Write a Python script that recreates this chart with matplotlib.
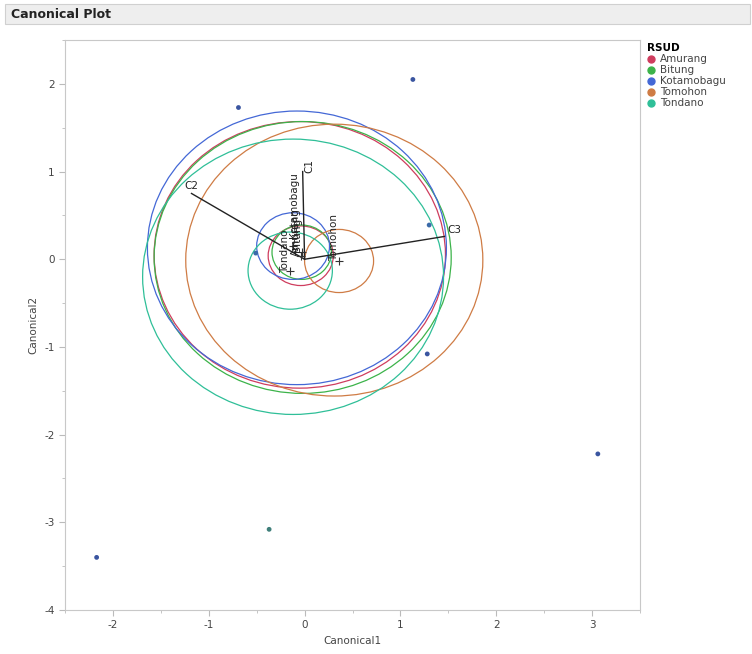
import numpy as np
import matplotlib.pyplot as plt
from matplotlib.patches import Circle, Rectangle
from matplotlib.lines import Line2D

plt.rcParams["axes.unicode_minus"] = False

# groups (RSUD)
groups = ["Amurang", "Bitung", "Kotamobagu", "Tomohon", "Tondano"]
colors = ["#cf3d5e", "#3cb34a", "#4468d6", "#cf7c45", "#2fbf98"]

# label anchor positions of group means
mean_x = [-0.04, -0.03, -0.06, 0.36, -0.15]
mean_y = [0.04, 0.08, 0.24, -0.02, -0.16]
# confidence circles (small) and 50% contour circles (large)
conf_r = [0.34, 0.31, 0.38, 0.36, 0.44]
circ_x = [-0.04, -0.03, -0.12, 0.36, -0.15]
circ_y = [0.04, 0.08, 0.15, -0.02, -0.13]
big_r = [1.52, 1.55, 1.56, 1.55, 1.57]
big_x = [-0.05, -0.02, -0.08, 0.31, -0.12]
big_y = [0.05, 0.02, 0.13, -0.01, -0.20]

# observations
obs_x = [1.13, -0.69, 1.30, -0.51, 1.28, 3.06, -0.37, -2.17]
obs_y = [2.05, 1.73, 0.39, 0.07, -1.08, -2.22, -3.08, -3.40]
obs_c = ["#3a55a0", "#3a55a0", "#3a6aa8", "#3a6aa8", "#3a55a0", "#3a55a0", "#3f7f7a", "#3a55a0"]

# biplot rays
ray_names = ["C1", "C2", "C3"]
ray_x = [-0.02, -1.18, 1.46]
ray_y = [1.00, 0.75, 0.26]

xticks = [-2, -1, 0, 1, 2, 3]
yticks = [-4, -3, -2, -1, 0, 1, 2]
xminor = [-2.5, -1.5, -0.5, 0.5, 1.5, 2.5, 3.5]
yminor = [-3.5, -2.5, -1.5, -0.5, 0.5, 1.5, 2.5]

fig = plt.figure(figsize=(7.52, 6.54), dpi=100)

# header bar
fig.patches.append(Rectangle((0.007, 0.963), 0.99, 0.031, transform=fig.transFigure,
                             facecolor="#eeeeee", edgecolor="#d0d0d0", lw=0.8))
fig.text(0.014, 0.978, "Canonical Plot", fontsize=9, fontweight="bold",
         va="center", ha="left", color="#222222")

ax = fig.add_axes([65/752, 1-610/654, 575/752, 570/654])

for i in range(len(groups)):
    ax.add_patch(Circle((big_x[i], big_y[i]), big_r[i], fill=False,
                        edgecolor=colors[i], lw=0.9))
    ax.add_patch(Circle((circ_x[i], circ_y[i]), conf_r[i], fill=False,
                        edgecolor=colors[i], lw=0.9))

for i in range(len(ray_names)):
    ax.plot([0, ray_x[i]], [0, ray_y[i]], color="#222222", lw=1.0)
ax.text(ray_x[0] + 0.02, ray_y[0] - 0.02, "C1", rotation=90, rotation_mode="anchor",
        ha="left", va="top", fontsize=7.5, color="#222222")
ax.text(ray_x[1], ray_y[1] + 0.03, "C2", ha="center", va="bottom", fontsize=7.5, color="#222222")
ax.text(ray_x[2] + 0.03, ray_y[2] + 0.02, "C3", ha="left", va="bottom", fontsize=7.5, color="#222222")

for i in range(len(groups)):
    ax.plot(circ_x[i], circ_y[i], marker="+", color="#333333", ms=6, mew=0.8)
    ax.text(mean_x[i], mean_y[i], groups[i], rotation=90, rotation_mode="anchor",
            ha="left", va="bottom", fontsize=7.5, color="#222222")

ax.scatter(obs_x, obs_y, s=12, c=obs_c, zorder=5, linewidths=0)

ax.set_xlim(-2.5, 3.5)
ax.set_ylim(-4, 2.5)
ax.set_xticks(xticks, labels=[str(v) for v in xticks])
ax.set_yticks(yticks, labels=[str(v) for v in yticks])
ax.set_xticks(xminor, minor=True)
ax.set_yticks(yminor, minor=True)
ax.tick_params(which="both", colors="#bbbbbb", labelcolor="#444444", labelsize=7.5)
ax.tick_params(which="major", length=4)
ax.tick_params(which="minor", length=2.5)
for s in ax.spines.values():
    s.set_color("#c8c8c8")
ax.set_xlabel("Canonical1", fontsize=7.5, color="#444444")
ax.set_ylabel("Canonical2", fontsize=7.5, color="#444444")

handles = [Line2D([], [], ls="", marker="o", ms=5, color=c) for c in colors]
leg = fig.legend(handles, groups, title="RSUD", loc="upper left",
                 bbox_to_anchor=(640/752, 1-36/654), frameon=False,
                 fontsize=7.5, title_fontsize=7.5, handlelength=0.8,
                 handletextpad=0.4, labelspacing=0.1, borderpad=0.2, alignment="left")
leg.get_title().set_fontweight("bold")
for t in leg.get_texts():
    t.set_color("#444444")

fig.savefig("out.png", dpi=100)
